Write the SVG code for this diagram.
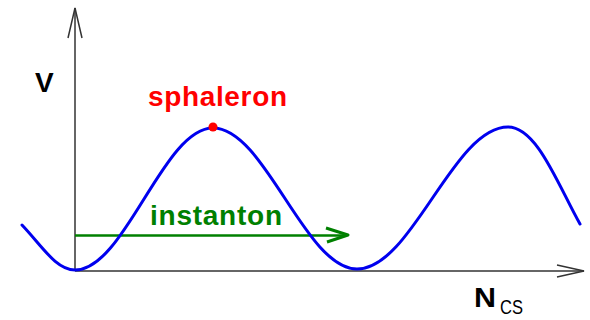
<svg xmlns="http://www.w3.org/2000/svg" width="590" height="320" viewBox="0 0 590 320">
<style>
.axis{stroke:#333;stroke-width:1.5;fill:none}
.curve{stroke:#0000ee;stroke-width:3;fill:none;stroke-linecap:round}
.lbl{font-family:"Liberation Sans",Arial,sans-serif;font-weight:bold}
</style>
<rect width="590" height="320" fill="#fff"/>
<g id="connectors">
<g id="v-axis">
<line class="axis" x1="75" y1="271" x2="75" y2="8"/>
<polyline class="axis" points="68,38 75,8 82,38"/>
</g>
<g id="h-axis">
<line class="axis" x1="75" y1="271" x2="584" y2="271"/>
<polyline class="axis" points="557,265 584,271 557,277"/>
</g>
<g id="instanton-arrow">
<line x1="75" y1="235.5" x2="347" y2="235.5" stroke="#008000" stroke-width="2.5"/>
<polyline points="326,228 348,235 327,242" stroke="#008000" stroke-width="3" fill="none" stroke-linejoin="round"/>
</g>
</g>
<g id="potential">
<path class="curve" d="M22,225 C42,246 56,270 75,270 C125,270 163,128 213,128 C265,128 305,269 357,269 C412,269 453,127 508,127 C537,127 558,185 580,224"/>
</g>
<g id="sphaleron">
<circle cx="213" cy="127" r="4.5" fill="#ff0000"/>
<text class="lbl" x="148" y="106" font-size="28" fill="#ff0000" textLength="139" lengthAdjust="spacing">sphaleron</text>
</g>
<g id="instanton">
<text class="lbl" x="150" y="225" font-size="28" fill="#008000" textLength="132" lengthAdjust="spacing">instanton</text>
</g>
<g id="v-label">
<text class="lbl" x="35" y="92" font-size="28" fill="#000">V</text>
</g>
<g id="ncs-label">
<text class="lbl" x="474" y="307" font-size="27" fill="#000" textLength="22" lengthAdjust="spacingAndGlyphs">N</text>
<text x="500" y="314" font-size="20" fill="#000" font-family="Liberation Sans,Arial,sans-serif" textLength="23" lengthAdjust="spacingAndGlyphs">CS</text>
</g>
</svg>
